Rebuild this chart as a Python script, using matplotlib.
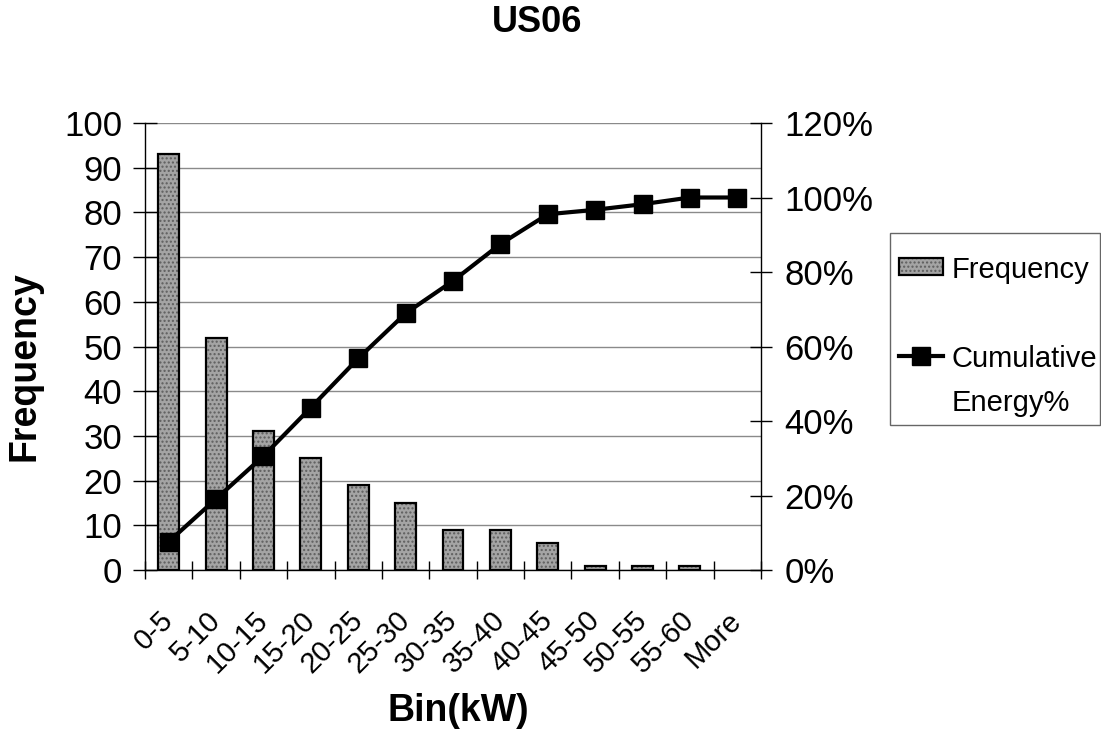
import numpy as np
import matplotlib
matplotlib.use("Agg")
import matplotlib.pyplot as plt
from matplotlib.patches import Patch, Rectangle
from matplotlib.lines import Line2D
from matplotlib.legend_handler import HandlerPatch, HandlerTuple
from matplotlib.ticker import MultipleLocator, PercentFormatter

# Power bins of the US06 cycle
bins = ["0-5", "5-10", "10-15", "15-20", "20-25", "25-30", "30-35",
        "35-40", "40-45", "45-50", "50-55", "55-60", "More"]
frequency = [93, 52, 31, 25, 19, 15, 9, 9, 6, 1, 1, 1, 0]
cumulative_energy_pct = [7.6, 19.1, 30.6, 43.6, 56.8, 68.9, 77.6,
                         87.5, 95.5, 96.7, 98.2, 100.0, 100.0]

plt.rcParams["font.family"] = ["Liberation Sans", "DejaVu Sans"]

W, H = 1101, 734
fig = plt.figure(figsize=(W / 100, H / 100), dpi=100)
ax = fig.add_axes([145 / W, 1 - 570 / H, (761 - 145) / W, (570 - 123) / H])

x = np.arange(len(bins))
bar_fill = "#a4a4a4"
ax.bar(x, frequency, width=0.44, facecolor=bar_fill, edgecolor="#5e5e5e",
       hatch="....", linewidth=0, zorder=2)
# outline only the non-empty bins
ax.bar(x, frequency, width=0.44, fill=False, edgecolor="black",
       linewidth=[1.6 if f > 0 else 0 for f in frequency], zorder=3)

ax.set_xlim(-0.5, len(bins) - 0.5)
ax.set_ylim(0, 100)
ax.yaxis.set_major_locator(MultipleLocator(10))
ax.grid(axis="y", color="#8a8a8a", linewidth=1.0)
ax.set_axisbelow(True)

for s in ("top", "right"):
    ax.spines[s].set_visible(False)
for s in ("left", "bottom"):
    ax.spines[s].set_linewidth(1.0)

ax.tick_params(axis="y", direction="inout", length=17, width=1.0,
               labelsize=25, pad=8)
ax.set_xticks(x, bins, rotation=45, ha="right", va="center",
              rotation_mode="anchor", fontsize=21)
ax.set_xticks(np.arange(-0.5, len(bins), 1.0), minor=True)
ax.tick_params(axis="x", which="major", length=0, pad=33)
ax.tick_params(axis="x", which="minor", direction="inout", length=13, width=1.0)

ax.set_ylabel("Frequency", fontsize=27, fontweight="bold", va="center")
ax.yaxis.set_label_coords((25 - 145) / 616, (570 - 366) / 447)
ax.set_xlabel("Bin(kW)", fontsize=27, fontweight="bold", va="center")
ax.xaxis.set_label_coords((458 - 145) / 616, (570 - 711) / 447)

# Cumulative energy on the secondary axis
ax2 = ax.twinx()
ax2.plot(x, cumulative_energy_pct, color="black", linewidth=3.0,
         marker="s", markersize=13, zorder=5)
ax2.set_ylim(0, 120)
ax2.yaxis.set_major_locator(MultipleLocator(20))
ax2.yaxis.set_major_formatter(PercentFormatter(xmax=100, decimals=0))
ax2.tick_params(axis="y", direction="inout", length=16, width=1.0,
                labelsize=25, pad=9)
for s in ("top", "left", "bottom"):
    ax2.spines[s].set_visible(False)
ax2.spines["right"].set_linewidth(1.0)

fig.text(537 / W, 1 - 23 / H, "US06", ha="center", va="center",
         fontsize=26, fontweight="bold")

# Legend box
fig.patches.append(Rectangle((890 / W, 1 - 425 / H), 210 / W, 192 / H,
                             transform=fig.transFigure, facecolor="white",
                             edgecolor="#666666", linewidth=1.0, zorder=-1))


def small_rect(legend, orig_handle, xdescent, ydescent, width, height, fontsize):
    h = 0.58 * fontsize
    return Rectangle((-xdescent, -ydescent + (height - h) / 2), width, h)


freq_handle = (Patch(facecolor=bar_fill, edgecolor="#5e5e5e", hatch="....", linewidth=0),
               Patch(fill=False, edgecolor="black", linewidth=1.6))
line_handle = Line2D([], [], color="black", linewidth=3.0, marker="s", markersize=13)

leg = ax2.legend([freq_handle, line_handle], ["Frequency", "Cumulative\nEnergy%"],
                 loc="upper left", bbox_to_anchor=(899 / W, 1 - 256 / H),
                 bbox_transform=fig.transFigure, frameon=False, fontsize=21,
                 handlelength=1.5, handleheight=0.74, handletextpad=0.3,
                 labelspacing=2.1, borderpad=0, borderaxespad=0,
                 handler_map={tuple: HandlerTuple(ndivide=1, pad=0),
                              Patch: HandlerPatch(patch_func=small_rect)})
leg.set_zorder(10)
for t in leg.get_texts():
    t.set_linespacing(1.7)
# keep each handle level with the first line of its label
for col in leg._legend_handle_box.get_children():
    for row in col.get_children():
        row.align = "top"

fig.savefig("out.png", dpi=100)
